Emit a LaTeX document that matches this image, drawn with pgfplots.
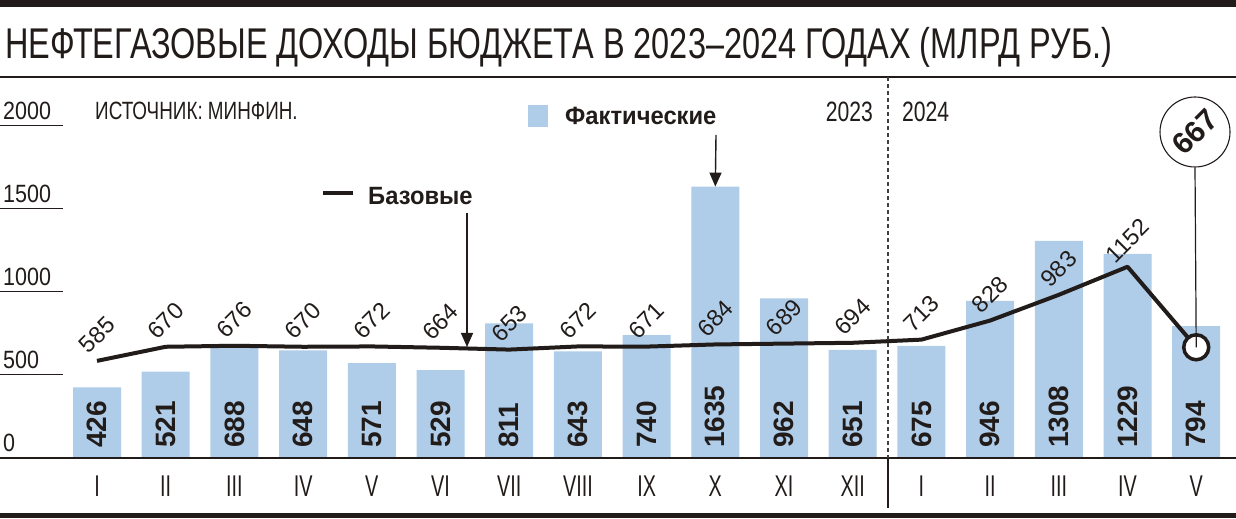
\documentclass[border=0pt]{standalone}
\usepackage{fontspec}
\setmainfont{Liberation Sans}
\newfontfamily\condT[FakeStretch=0.755]{Liberation Sans}
\newfontfamily\condY[FakeStretch=0.86]{Liberation Sans}
\newfontfamily\condX[FakeStretch=0.66]{Liberation Sans}
\newfontfamily\condB[FakeStretch=0.95]{Liberation Sans}
\usepackage{pgfplots}
\usepackage{pgfplotstable}
\pgfplotsset{compat=1.18}
\usetikzlibrary{arrows.meta}
\definecolor{barblue}{RGB}{175,204,232}
\definecolor{ink}{RGB}{33,28,26}

\pgfplotstableread{
x fact base
0 426 585
1 521 670
2 688 676
3 648 670
4 571 672
5 529 664
6 811 653
7 643 672
8 740 671
9 1635 684
10 962 689
11 651 694
12 675 713
13 946 828
14 1308 983
15 1229 1152
16 794 667
}\datatable

\begin{document}
\begin{tikzpicture}
\begin{axis}[
  at={(0pt,0pt)}, anchor=south west,
  scale only axis, width=1236pt, height=519pt,
  xmin=-1.4119, xmax=16.5789,
  ymin=-367.5, ymax=2759.0,
  clip=false,
  axis line style={draw=none},
  tick style={draw=none},
  xtick={0,...,16},
  xticklabels={I,II,III,IV,V,VI,VII,VIII,IX,X,XI,XII,I,II,III,IV,V},
  xticklabel style={anchor=center, yshift=33pt, font=\condX\fontsize{30}{30}\selectfont, text=ink},
  ytick={0,500,1000,1500,2000},
  yticklabels={0,500,1000,1500,2000},
  yticklabel style={anchor=base west, inner sep=0pt, xshift=3pt, yshift=6.5pt, font=\condY\fontsize{25}{25}\selectfont, text=ink},
]
% bars
\addplot[ybar, bar width=48pt, fill=barblue, draw=none] table[x=x, y=fact] {\datatable};
% bar value labels
\addplot[draw=none, mark=none, nodes near coords, point meta=explicit symbolic,
  every node near coord/.append style={anchor=west, rotate=90, inner sep=0pt,
    font=\fontsize{28}{28}\selectfont\bfseries, text=ink}]
  table[x=x, y expr=60, meta=fact] {\datatable};
% base line
\addplot[ink, line width=4pt, mark=none, line join=round] table[x=x, y=base] {\datatable};
% base labels
\addplot[draw=none, mark=none, nodes near coords, point meta=explicit symbolic,
  skip coords between index={16}{17},
  every node near coord/.append style={anchor=center, yshift=26pt, rotate=45, inner sep=0pt,
    font=\fontsize{23.5}{23.5}\selectfont, text=ink}]
  table[x=x, y=base, meta=base] {\datatable};
% last point marker
\addplot[only marks, mark=*, mark size=12.5pt, mark options={fill=white, draw=ink, line width=3.5pt},
  skip coords between index={0}{16}] table[x=x, y=base] {\datatable};
\coordinate (mk) at (axis cs:16,667);
\coordinate (tipF) at (axis cs:9,1635);
\end{axis}
\begin{scope}[x=1pt, y=-1pt, shift={(0pt,519pt)}, ink]
  % top thick rule and title
  \fill[ink] (0,0) rectangle (1236,7);
  \node[anchor=base west, inner sep=0pt, font=\condT\fontsize{43}{43}\selectfont] at (5,59)
    {НЕФТЕГАЗОВЫЕ ДОХОДЫ БЮДЖЕТА В 2023–2024 ГОДАХ (МЛРД РУБ.)};
  \draw[line width=1.3pt] (0,77) -- (1236,77);
  % source
  \node[anchor=base west, inner sep=0pt, font=\condT\fontsize{25}{25}\selectfont] at (95,120)
    {ИСТОЧНИК: МИНФИН.};
  % y underlines
  \foreach \py in {375,292,209,126} \draw[line width=1pt] (0,\py) -- (63,\py);
  % baseline
  \draw[line width=2pt] (0,458) -- (1236,458);
  % bottom rule
  \fill[ink] (0,513) rectangle (1236,518);
  % year separator
  \draw[line width=1.3pt, dash pattern=on 4pt off 3pt, ink!85] (888,77) -- (888,458);
  \draw[line width=1.5pt] (888,458) -- (888,508);
  \node[anchor=base east, inner sep=0pt, font=\condT\fontsize{28}{28}\selectfont] at (873,122) {2023};
  \node[anchor=base west, inner sep=0pt, font=\condT\fontsize{28}{28}\selectfont] at (902,122) {2024};
  % legend: fact
  \fill[barblue] (528,105) rectangle (548,127);
  \node[anchor=base west, inner sep=0pt, font=\condB\fontsize{25}{25}\selectfont\bfseries] at (565,125) {Фактические};
  \draw[line width=1.4pt, -{Triangle[length=14pt,width=12pt]}] (716,135) -- (tipF);
  % legend: base
  \draw[line width=4pt] (323,193) -- (353,193);
  \node[anchor=base west, inner sep=0pt, font=\condB\fontsize{25}{25}\selectfont\bfseries] at (368,205) {Базовые};
  \draw[line width=1.4pt, -{Triangle[length=14pt,width=12pt]}] (467,213) -- (467,347);
  % callout
  \node[circle, draw=ink, line width=1.1pt, minimum size=70pt, inner sep=0pt, fill=white] (circ) at (1195,132) {};
  \node[rotate=45, inner sep=0pt, font=\fontsize{30}{30}\selectfont\bfseries] at (1195,132) {667};
  \draw[line width=1.2pt] (circ.south) -- (mk);
\end{scope}
\pgfresetboundingbox
\useasboundingbox (0pt,0pt) rectangle (1236pt,519pt);
\end{tikzpicture}
\end{document}
